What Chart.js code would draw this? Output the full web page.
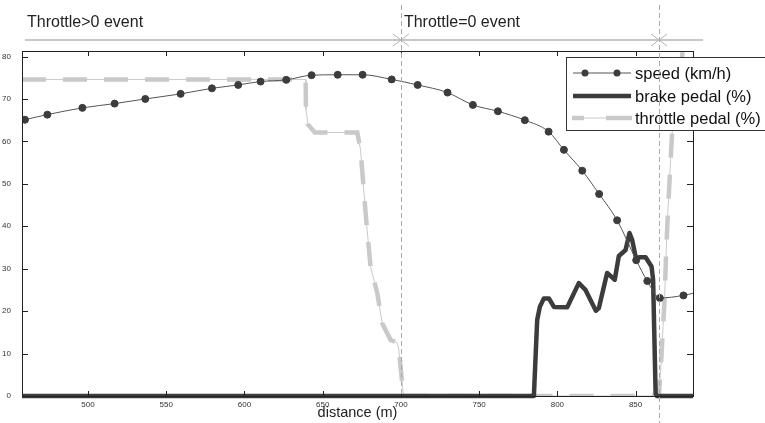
<!DOCTYPE html>
<html>
<head>
<meta charset="utf-8">
<script src="https://cdn.jsdelivr.net/npm/chart.js@4"></script>
<style>
  body { margin: 0; background: #fff; }
  #wrap { width: 765px; height: 423px; position: relative; }
</style>
</head>
<body>
<div id="wrap"><canvas id="speed_chart"></canvas></div>
<script>
// values
const speedX = [457.8, 459.7, 474.0, 496.4, 517.0, 536.6, 559.2, 579.2, 596.0, 610.3, 626.7, 642.9, 659.6, 675.5, 694.1,
  710.7, 729.8, 746.0, 762.0, 779.2, 794.4, 804.2, 815.9, 826.7, 838.2, 850.4, 857.5, 865.5, 880.6, 886.7];
const speedY = [64.9, 65.1, 66.3, 67.9, 68.9, 70.0, 71.2, 72.5, 73.3, 74.1, 74.5, 75.6, 75.7, 75.7, 74.6,
  73.3, 71.5, 68.6, 67.1, 65.0, 62.3, 58.0, 53.1, 47.6, 41.4, 32.0, 27.1, 23.1, 23.7, 24.2];

const brakeX = [457.8, 785.0, 787.1, 788.8, 791.4, 794.6, 797.8, 806.3, 813.7, 818.0, 824.6, 826.5, 831.8, 836.7, 839.3,
  843.6, 846.1, 847.8, 850.4, 852.1, 856.4, 860.2, 861.2, 862.8, 863.6, 886.7];
const brakeY = [0, 0, 17.9, 21, 23, 23, 21, 20.9, 26.6, 25, 20.1, 20.7, 29, 27.4, 33,
  34.4, 38.4, 36.8, 32.2, 32.7, 32.7, 30.5, 27.4, 0.6, 0, 0];

const throttleX = [457.8, 639.1, 639.3, 640.6, 644.9, 672.1, 674.2, 677.8, 680.6, 684.9, 688.1, 693.4, 697.6, 698.7,
  701.5, 701.9, 864.9, 866.4, 868.5, 869.6, 870.6, 872.4, 874.5, 878.8, 882.8];
const throttleY = [74.6, 74.6, 67.5, 64, 62.1, 62.1, 58, 41.5, 30.5, 24.2, 17.1, 13.2, 12.6, 10.8,
  0.6, 0, 0, 8.5, 22.6, 34.4, 43, 55.7, 69, 77.7, 88];

const xTicks = [500, 550, 600, 650, 700, 750, 800, 850];
const yTicks = [0, 10, 20, 30, 40, 50, 60, 70, 80];
const eventLines = [700, 865];
const eventLabels = ['Throttle>0 event', 'Throttle=0 event'];
const legendLabels = ['speed (km/h)', 'brake pedal (%)', 'throttle pedal (%)'];

const pts = (xs, ys) => xs.map((x, i) => ({ x: x, y: ys[i] }));

const dark = '#3c3c3c';
const light = '#c9c9c9';

const decor = {
  id: 'decor',
  afterDatasetsDraw(chart) {
    const { ctx, chartArea: a, scales } = chart;
    ctx.save();
    ctx.strokeStyle = '#222';
    ctx.lineWidth = 1;
    ctx.strokeRect(Math.round(a.left) + 0.5, Math.round(a.top) + 0.5, Math.round(a.right - a.left), Math.round(a.bottom - a.top));
    ctx.beginPath();
    yTicks.forEach(v => {
      const y = Math.round(scales.y.getPixelForValue(v)) + 0.5;
      ctx.moveTo(a.left, y); ctx.lineTo(a.left + 6, y);
      ctx.moveTo(a.right - 6, y); ctx.lineTo(a.right, y);
    });
    xTicks.forEach(v => {
      const x = Math.round(scales.x.getPixelForValue(v)) + 0.5;
      ctx.moveTo(x, a.bottom); ctx.lineTo(x, a.bottom - 5);
      ctx.moveTo(x, a.top); ctx.lineTo(x, a.top + 5);
    });
    ctx.stroke();
    ctx.restore();
  },
  afterDraw(chart) {
    const { ctx, chartArea: a, scales } = chart;
    ctx.save();

    // legend box
    const lx = 566, ly = 57, lw = 205, lh = 73;
    ctx.fillStyle = '#fff';
    ctx.fillRect(lx, ly, lw, lh);
    ctx.strokeStyle = '#333';
    ctx.lineWidth = 1;
    ctx.strokeRect(lx + 0.5, ly + 0.5, lw, lh);
    const rows = [73, 96, 118];
    // speed sample
    ctx.strokeStyle = '#555';
    ctx.beginPath(); ctx.moveTo(573, rows[0]); ctx.lineTo(631, rows[0]); ctx.stroke();
    ctx.fillStyle = dark;
    [585, 617].forEach(x => { ctx.beginPath(); ctx.arc(x, rows[0], 3.5, 0, Math.PI * 2); ctx.fill(); });
    // brake sample
    ctx.strokeStyle = dark; ctx.lineWidth = 4.5;
    ctx.beginPath(); ctx.moveTo(573, rows[1]); ctx.lineTo(631, rows[1]); ctx.stroke();
    // throttle sample
    ctx.strokeStyle = light; ctx.lineWidth = 1;
    ctx.beginPath(); ctx.moveTo(572, rows[2]); ctx.lineTo(632, rows[2]); ctx.stroke();
    ctx.lineWidth = 4.5;
    ctx.beginPath(); ctx.moveTo(572, rows[2]); ctx.lineTo(584, rows[2]); ctx.moveTo(606, rows[2]); ctx.lineTo(632, rows[2]); ctx.stroke();
    ctx.fillStyle = '#111';
    ctx.font = '16.5px "Liberation Sans", Arial, sans-serif';
    ctx.textBaseline = 'middle';
    legendLabels.forEach((t, i) => ctx.fillText(t, 635, rows[i] + 1));

    // event markers above the plot
    ctx.strokeStyle = '#aaa';
    ctx.lineWidth = 1;
    ctx.setLineDash([5, 3]);
    eventLines.forEach((v, i) => {
      const x = Math.round(scales.x.getPixelForValue(v)) + 0.5;
      ctx.beginPath(); ctx.moveTo(x, 5); ctx.lineTo(x, i === 0 ? a.bottom : 423); ctx.stroke();
    });
    ctx.setLineDash([]);
    const x0 = scales.x.getPixelForValue(eventLines[0]);
    const x1 = scales.x.getPixelForValue(eventLines[1]);
    ctx.strokeStyle = '#b4b4b4';
    ctx.lineWidth = 1.5;
    ctx.beginPath(); ctx.moveTo(25, 40); ctx.lineTo(703, 40); ctx.stroke();
    ctx.lineWidth = 1;
    [x0, x1].forEach(x => {
      ctx.beginPath();
      ctx.moveTo(x - 8, 34); ctx.lineTo(x, 40); ctx.lineTo(x - 8, 46);
      ctx.moveTo(x + 8, 34); ctx.lineTo(x, 40); ctx.lineTo(x + 8, 46);
      ctx.stroke();
    });
    ctx.fillStyle = '#222';
    ctx.font = '16px "Liberation Sans", Arial, sans-serif';
    ctx.textBaseline = 'alphabetic';
    ctx.fillText(eventLabels[0], 27, 27);
    ctx.fillText(eventLabels[1], x0 + 3, 27);
    ctx.restore();
  }
};

new Chart(document.getElementById('speed_chart'), {
  type: 'line',
  data: {
    datasets: [
      {
        label: legendLabels[0],
        data: pts(speedX, speedY),
        borderColor: '#555',
        borderWidth: 1,
        pointBackgroundColor: dark,
        pointBorderColor: dark,
        pointRadius: speedX.map((x, i) => (i === 0 || i === speedX.length - 1) ? 0 : 3.5),
        cubicInterpolationMode: 'monotone'
      },
      {
        label: legendLabels[1],
        data: pts(brakeX, brakeY),
        borderColor: dark,
        borderWidth: 4.5,
        pointRadius: 0,
        borderJoinStyle: 'round',
        clip: false
      },
      {
        label: legendLabels[2],
        data: pts(throttleX, throttleY),
        borderColor: light,
        borderWidth: 4.5,
        borderDash: [24, 17],
        pointRadius: 0
      },
      {
        label: 'thin',
        data: pts(throttleX, throttleY),
        borderColor: light,
        borderWidth: 1,
        pointRadius: 0
      }
    ]
  },
  options: {
    responsive: true,
    maintainAspectRatio: false,
    animation: false,
    parsing: false,
    layout: { padding: { top: 51, right: 72, left: 0, bottom: 0 } },
    plugins: { legend: { display: false }, tooltip: { enabled: false } },
    scales: {
      x: {
        type: 'linear',
        min: 457.8,
        max: 886.7,
        afterBuildTicks: s => { s.ticks = xTicks.map(v => ({ value: v })); },
        afterFit: s => { s.height = 27; },
        grid: { display: false },
        border: { display: false },
        ticks: { padding: -4, color: '#333', font: { size: 8, family: 'Arial' } },
        title: { display: true, text: 'distance (m)', color: '#222', padding: { top: 0, bottom: 1 },
          font: { size: 14.5, family: '"Liberation Sans", Arial' } }
      },
      y: {
        min: 0,
        max: 81.3,
        afterBuildTicks: s => { s.ticks = yTicks.map(v => ({ value: v })); },
        afterFit: s => { s.width = 22; },
        grid: { display: false },
        border: { display: false },
        ticks: { padding: 3, color: '#333', font: { size: 8, family: 'Arial' } }
      }
    }
  },
  plugins: [decor]
});
</script>
</body>
</html>
